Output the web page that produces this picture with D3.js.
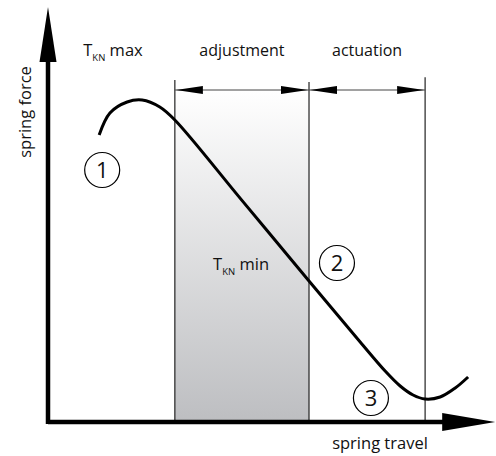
<!DOCTYPE html>
<html>
<head>
<meta charset="utf-8">
<script src="https://cdn.jsdelivr.net/npm/d3@7"></script>
<style>
  body { margin: 0; background: #fff; }
  text { font-family: "Open Sans", "Noto Sans", sans-serif; fill: #111; }
</style>
</head>
<body>
<div id="chart"></div>
<script>
// spring characteristic, travel and force in % of axis
const travel = [11.9, 14.4, 18.4, 21.9, 26.0, 29.5, 45.1, 60.7, 72.6, 78.4, 81.9, 84.9, 87.7, 91.2, 94.7, 97.7];
const force  = [71.75, 77.25, 80, 80.5, 78.75, 75.5, 55.4, 35.25, 20, 12.75, 9, 6.75, 5.75, 6.25, 8.5, 11.25];

// zone boundaries on the travel axis
const zoneBounds = [29.5, 60.7, 87.7];
const zoneLabels = ["adjustment", "actuation"];

// numbered operating points
const pointNums = ["1", "2", "3"];
const pointTravel = [12.6, 67.2, 75.1];
const pointForce = [63, 39.75, 6];

const W = 496, H = 456;
const x = d3.scaleLinear().domain([0, 100]).range([48, 478]);
const y = d3.scaleLinear().domain([0, 100]).range([422, 22]);

const svg = d3.select("#chart").append("svg")
    .attr("width", W).attr("height", H);

// gradient for the adjustment zone
const grad = svg.append("defs").append("linearGradient")
    .attr("id", "adj").attr("x1", 0).attr("y1", 0).attr("x2", 0).attr("y2", 1);
grad.append("stop").attr("offset", "0%").attr("stop-color", "#ffffff");
grad.append("stop").attr("offset", "100%").attr("stop-color", "#bdbec1");

svg.append("rect")
    .attr("x", x(zoneBounds[0]))
    .attr("y", y(83))
    .attr("width", x(zoneBounds[1]) - x(zoneBounds[0]))
    .attr("height", y(0) - y(83))
    .attr("fill", "url(#adj)");

// vertical zone lines
svg.selectAll(".zline").data(zoneBounds).enter().append("line")
    .attr("class", "zline")
    .attr("x1", d => x(d)).attr("x2", d => x(d))
    .attr("y1", (d, i) => y([85.5, 85, 86.2][i])).attr("y2", y(0))
    .attr("stroke", "#222").attr("stroke-width", 1.2);

// dimension arrows
const ay = y(83);
function arrowHead(xt, dir) {
    // dir = +1 points right, -1 points left
    const len = 27, hw = 4;
    return `M${xt},${ay} L${xt - dir * len},${ay - hw} L${xt - dir * len},${ay + hw} Z`;
}
zoneLabels.forEach((lab, i) => {
    const x0 = x(zoneBounds[i]), x1 = x(zoneBounds[i + 1]);
    svg.append("line")
        .attr("x1", x0).attr("x2", x1).attr("y1", ay).attr("y2", ay)
        .attr("stroke", "#444").attr("stroke-width", 1);
    svg.append("path").attr("d", arrowHead(x0 + 1, -1)).attr("fill", "#000");
    svg.append("path").attr("d", arrowHead(x1 - 1, 1)).attr("fill", "#000");
    svg.append("text")
        .attr("x", (x0 + x1) / 2).attr("y", y(91.5))
        .attr("text-anchor", "middle")
        .attr("font-size", 16)
        .text(lab);
});

// T_KN max label
const tmax = svg.append("text").attr("x", x(8.2)).attr("y", y(91.5)).attr("font-size", 16.5);
tmax.append("tspan").text("T");
tmax.append("tspan").attr("font-size", 9.5).attr("dy", 5).text("KN");
tmax.append("tspan").attr("dy", -5).text(" max");

// T_KN min label
const tmin = svg.append("text").attr("x", x(38.4)).attr("y", y(38)).attr("font-size", 16.5);
tmin.append("tspan").text("T");
tmin.append("tspan").attr("font-size", 9.5).attr("dy", 5).text("KN");
tmin.append("tspan").attr("dy", -5).text(" min");

// characteristic curve
const pts = travel.map((t, i) => [t, force[i]]);
svg.append("path")
    .datum(pts)
    .attr("fill", "none")
    .attr("stroke", "#000")
    .attr("stroke-width", 3)
    .attr("d", d3.line().x(d => x(d[0])).y(d => y(d[1])).curve(d3.curveCatmullRom.alpha(0.5)));

// numbered circles
const marks = svg.selectAll(".pt").data(pointNums).enter().append("g")
    .attr("class", "pt")
    .attr("transform", (d, i) => `translate(${x(pointTravel[i])},${y(pointForce[i])})`);
marks.append("circle").attr("r", 17.5).attr("fill", "#fff").attr("stroke", "#000").attr("stroke-width", 1.2);
marks.append("text")
    .attr("text-anchor", "middle").attr("dy", "0.36em")
    .attr("font-size", 22)
    .text(d => d);

// axes
svg.append("line")
    .attr("x1", x(0)).attr("x2", 450).attr("y1", y(0)).attr("y2", y(0))
    .attr("stroke", "#000").attr("stroke-width", 4.5);
svg.append("path")
    .attr("d", `M${x(104)},${y(0)} L${x(104) - 53},${y(0) - 9} L${x(104) - 53},${y(0) + 9} Z`)
    .attr("fill", "#000");
svg.append("line")
    .attr("x1", x(0)).attr("x2", x(0)).attr("y1", y(0) + 2).attr("y2", 55)
    .attr("stroke", "#000").attr("stroke-width", 4.5);
svg.append("path")
    .attr("d", `M${x(0)},${y(103.75)} L${x(0) - 8.5},${y(103.75) + 55} L${x(0) + 8.5},${y(103.75) + 55} Z`)
    .attr("fill", "#000");

// axis titles
svg.append("text")
    .attr("x", 380).attr("y", 449)
    .attr("text-anchor", "middle").attr("font-size", 16.5)
    .text("spring travel");
svg.append("text")
    .attr("transform", "translate(31,112) rotate(-90)")
    .attr("text-anchor", "middle").attr("font-size", 16.5)
    .text("spring force");
</script>
</body>
</html>
